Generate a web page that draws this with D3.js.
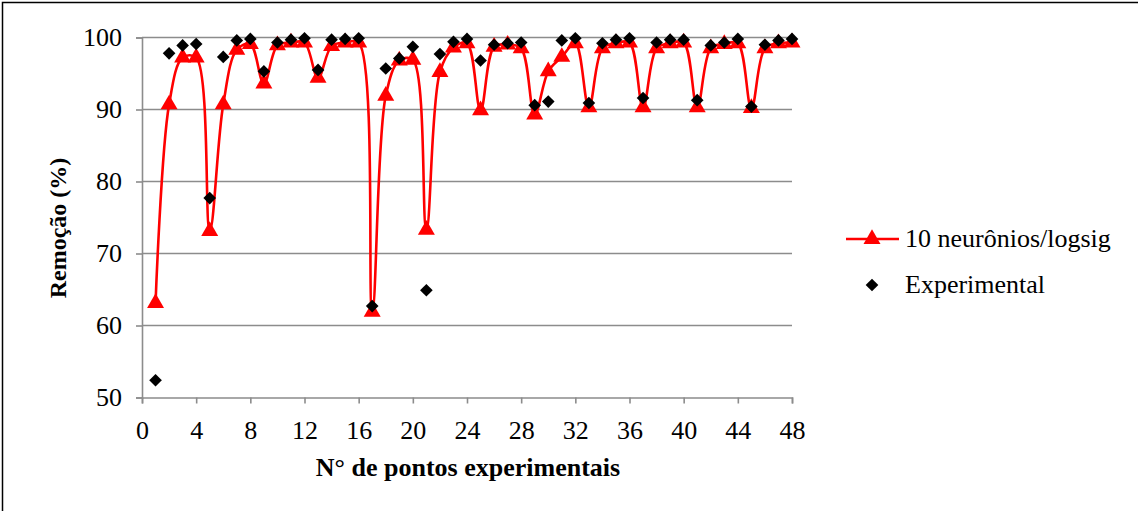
<!DOCTYPE html>
<html>
<head>
<meta charset="utf-8">
<script src="https://cdn.jsdelivr.net/npm/d3@7"></script>
<style>
  body { margin: 0; background: #fff; }
  svg { display: block; font-family: "Liberation Serif", "Times New Roman", serif; }
</style>
</head>
<body>
<svg id="chart" width="1138" height="511"></svg>
<script>
// point number on the x axis
var points = d3.range(1, 49);
// 10 neuronios / logsig model output
var modelo = [63.1, 90.7, 97.2, 97.2, 73.1, 90.7, 98.3, 99.1, 93.6, 98.9,
              99.3, 99.3, 94.4, 98.8, 99.3, 99.3, 61.9, 91.9, 96.8, 96.9,
              73.3, 95.2, 98.6, 99.2, 89.9, 98.7, 99.0, 98.5, 89.3, 95.3,
              97.3, 99.2, 90.3, 98.5, 99.2, 99.3, 90.3, 98.5, 99.2, 99.3,
              90.3, 98.5, 99.1, 99.2, 90.2, 98.5, 99.2, 99.3];
// experimental values
var experimental = [52.4, 97.8, 98.9, 99.1, 77.7, 97.3, 99.6, 99.8, 95.3, 99.3,
                    99.7, 99.9, 95.5, 99.7, 99.8, 99.9, 62.7, 95.7, 97.1, 98.7,
                    64.9, 97.7, 99.4, 99.8, 96.8, 99.0, 99.2, 99.3, 90.6, 91.1,
                    99.6, 99.9, 90.9, 99.2, 99.7, 99.9, 91.6, 99.3, 99.7, 99.7,
                    91.3, 98.9, 99.3, 99.8, 90.4, 99.0, 99.6, 99.8];
var xTicks = d3.range(0, 49, 4);
var yTicks = [50, 60, 70, 80, 90, 100];
var serieNames = ["10 neurônios/logsig", "Experimental"];

var svg = d3.select("#chart");
var plotLeft = 142, plotRight = 792, plotTop = 37.5, plotBottom = 397.5;

var x = d3.scaleLinear().domain([0, 48]).range([plotLeft, plotRight]);
var y = d3.scaleLinear().domain([50, 100]).range([plotBottom, plotTop]);

// outer frame (only top and left edges fall inside the picture)
svg.append("rect")
  .attr("x", 2.5).attr("y", 2.5)
  .attr("width", 1160).attr("height", 530)
  .attr("fill", "none").attr("stroke", "#000").attr("stroke-width", 1.5);

// gridlines
svg.append("g").selectAll("line")
  .data(yTicks.filter(function (d) { return d > 50; }))
  .enter().append("line")
  .attr("x1", plotLeft).attr("x2", plotRight)
  .attr("y1", function (d) { return y(d); })
  .attr("y2", function (d) { return y(d); })
  .attr("stroke", "#8c8c8c").attr("stroke-width", 1.6);

// axes
var xAxis = svg.append("g")
  .attr("transform", "translate(0," + plotBottom + ")")
  .call(d3.axisBottom(x).tickValues(xTicks).tickSize(6).tickPadding(17));
var yAxis = svg.append("g")
  .attr("transform", "translate(" + plotLeft + ",0)")
  .call(d3.axisLeft(y).tickValues(yTicks).tickSize(6).tickPadding(14));

[xAxis, yAxis].forEach(function (g) {
  g.select(".domain").attr("stroke", "#8c8c8c").attr("stroke-width", 1.6);
  g.selectAll(".tick line").attr("stroke", "#8c8c8c").attr("stroke-width", 1.6);
  g.selectAll("text")
    .attr("font-family", "Liberation Serif, Times New Roman, serif")
    .attr("font-size", 26).attr("fill", "#000");
});

// axis titles
svg.append("text")
  .attr("x", 468).attr("y", 476)
  .attr("text-anchor", "middle")
  .attr("font-size", 26).attr("font-weight", "bold")
  .text("N° de pontos experimentais");

svg.append("text")
  .attr("transform", "translate(66,228) rotate(-90)")
  .attr("text-anchor", "middle")
  .attr("font-size", 24).attr("font-weight", "bold")
  .text("Remoção (%)");

// smoothed model line
var line = d3.line()
  .x(function (d, i) { return x(points[i]); })
  .y(function (d) { return y(d); })
  .curve(d3.curveCatmullRom.alpha(0.5));

svg.append("path")
  .datum(modelo)
  .attr("d", line)
  .attr("fill", "none")
  .attr("stroke", "#ff0000")
  .attr("stroke-width", 2.6);

var tri = d3.symbol().type(d3.symbolTriangle).size(125);
var dia = d3.symbol().type(d3.symbolSquare).size(80);

svg.append("g").selectAll("path")
  .data(modelo)
  .enter().append("path")
  .attr("d", tri)
  .attr("transform", function (d, i) { return "translate(" + x(points[i]) + "," + y(d) + ")"; })
  .attr("fill", "#ff0000");

svg.append("g").selectAll("path")
  .data(experimental)
  .enter().append("path")
  .attr("d", dia)
  .attr("transform", function (d, i) { return "translate(" + x(points[i]) + "," + y(d) + ") rotate(45)"; })
  .attr("fill", "#000");

// legend
var lg = svg.append("g");
lg.append("line")
  .attr("x1", 846).attr("x2", 899).attr("y1", 239).attr("y2", 239)
  .attr("stroke", "#ff0000").attr("stroke-width", 2.6);
lg.append("path").attr("d", tri)
  .attr("transform", "translate(872,239)").attr("fill", "#ff0000");
lg.append("text").attr("x", 905).attr("y", 247)
  .attr("font-size", 26).text(serieNames[0]);
lg.append("path").attr("d", dia)
  .attr("transform", "translate(872,285) rotate(45)").attr("fill", "#000");
lg.append("text").attr("x", 905).attr("y", 293)
  .attr("font-size", 26).text(serieNames[1]);
</script>
</body>
</html>
